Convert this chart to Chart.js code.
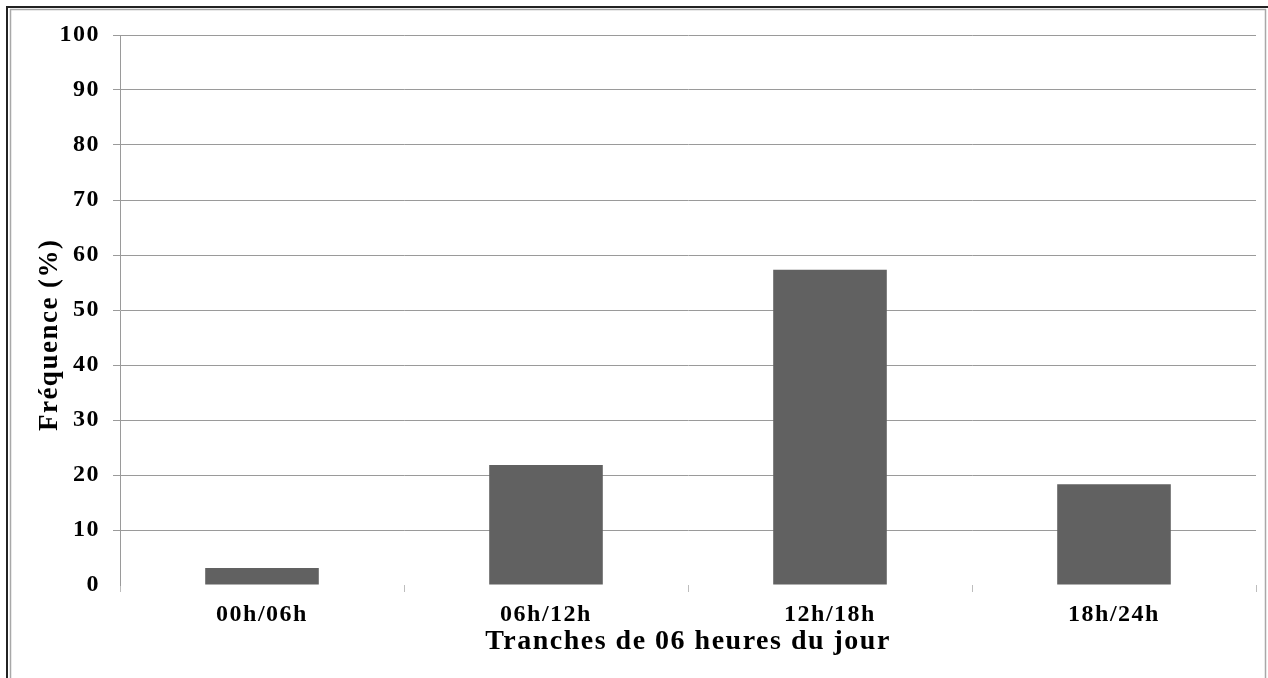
<!DOCTYPE html>
<html>
<head>
<meta charset="utf-8">
<script src="https://cdn.jsdelivr.net/npm/chart.js@4.4.1/dist/chart.umd.min.js"></script>
<style>
  html, body { margin: 0; padding: 0; background: #ffffff; }
  #wrap { width: 1268px; height: 678px; position: relative; }
</style>
</head>
<body>
<div id="wrap"><canvas id="c" width="1268" height="678"></canvas></div>
<script>
// ---- data ----
const categories = ["00h/06h", "06h/12h", "12h/18h", "18h/24h"];
const frequencies = [3.1, 21.8, 57.3, 18.3];
const yMin = 0;
const yMax = 100;
const yStep = 10;
const xTitle = "Tranches de 06 heures du jour";
const yTitle = "Fréquence (%)";

const FONT = "'Liberation Serif', 'Times New Roman', serif";
const SPACING = '1.5px';

const spacingPlugin = {
  id: 'spacing',
  beforeLayout(chart) { chart.ctx.letterSpacing = SPACING; },
  beforeDraw(chart) { chart.ctx.letterSpacing = SPACING; }
};

const framePlugin = {
  id: 'frame',
  beforeDraw(chart) {
    const ctx = chart.ctx;
    ctx.save();
    ctx.fillStyle = '#ffffff';
    ctx.fillRect(0, 0, chart.width, chart.height);
    ctx.lineWidth = 2;
    ctx.strokeStyle = '#222222';
    ctx.beginPath();
    ctx.moveTo(6, 7); ctx.lineTo(1268, 7);
    ctx.moveTo(7, 6); ctx.lineTo(7, 678);
    ctx.stroke();
    ctx.lineWidth = 1.5;
    ctx.strokeStyle = '#a8a8a8';
    ctx.beginPath();
    ctx.moveTo(10, 9.5); ctx.lineTo(1266, 9.5);
    ctx.moveTo(10.5, 9); ctx.lineTo(10.5, 678);
    ctx.moveTo(1265.5, 9); ctx.lineTo(1265.5, 678);
    ctx.stroke();
    ctx.restore();
  }
};

new Chart(document.getElementById('c'), {
  type: 'bar',
  data: {
    labels: categories,
    datasets: [{
      data: frequencies,
      backgroundColor: '#616161',
      borderWidth: 0,
      barPercentage: 0.4,
      categoryPercentage: 1.0
    }]
  },
  options: {
    responsive: false,
    animation: false,
    devicePixelRatio: 1,
    layout: { padding: { top: 35, right: 12, left: 10, bottom: 0 } },
    plugins: {
      legend: { display: false },
      tooltip: { enabled: false },
      title: { display: false }
    },
    scales: {
      x: {
        offset: true,
        border: { display: false },
        grid: {
          offset: true,
          drawOnChartArea: false,
          drawTicks: true,
          tickLength: 7,
          color: '#bdbdbd',
          lineWidth: 1
        },
        ticks: {
          color: '#000000',
          font: { family: FONT, size: 24, weight: 'bold' },
          padding: 8,
          maxRotation: 0,
          autoSkip: false
        },
        title: {
          display: true,
          text: xTitle,
          color: '#000000',
          font: { family: FONT, size: 28, weight: 'bold' },
          padding: { top: 0, bottom: 19 }
        },
        afterFit(scale) { scale.height = 93; }
      },
      y: {
        min: yMin,
        max: yMax,
        border: { display: true, color: '#9a9a9a', width: 1 },
        grid: {
          color: (c) => (c.tick && c.tick.value === 0) ? 'rgba(0,0,0,0)' : '#9a9a9a',
          lineWidth: 1,
          drawTicks: true,
          tickLength: 7
        },
        ticks: {
          stepSize: yStep,
          color: '#000000',
          font: { family: FONT, size: 24, weight: 'bold' },
          padding: 13
        },
        title: {
          display: true,
          text: yTitle + '      ',
          color: '#000000',
          font: { family: FONT, size: 27, weight: 'bold' },
          padding: { top: 24, bottom: 0 }
        },
        afterFit(scale) { scale.width = 110; }
      }
    }
  },
  plugins: [spacingPlugin, framePlugin]
});
</script>
</body>
</html>
